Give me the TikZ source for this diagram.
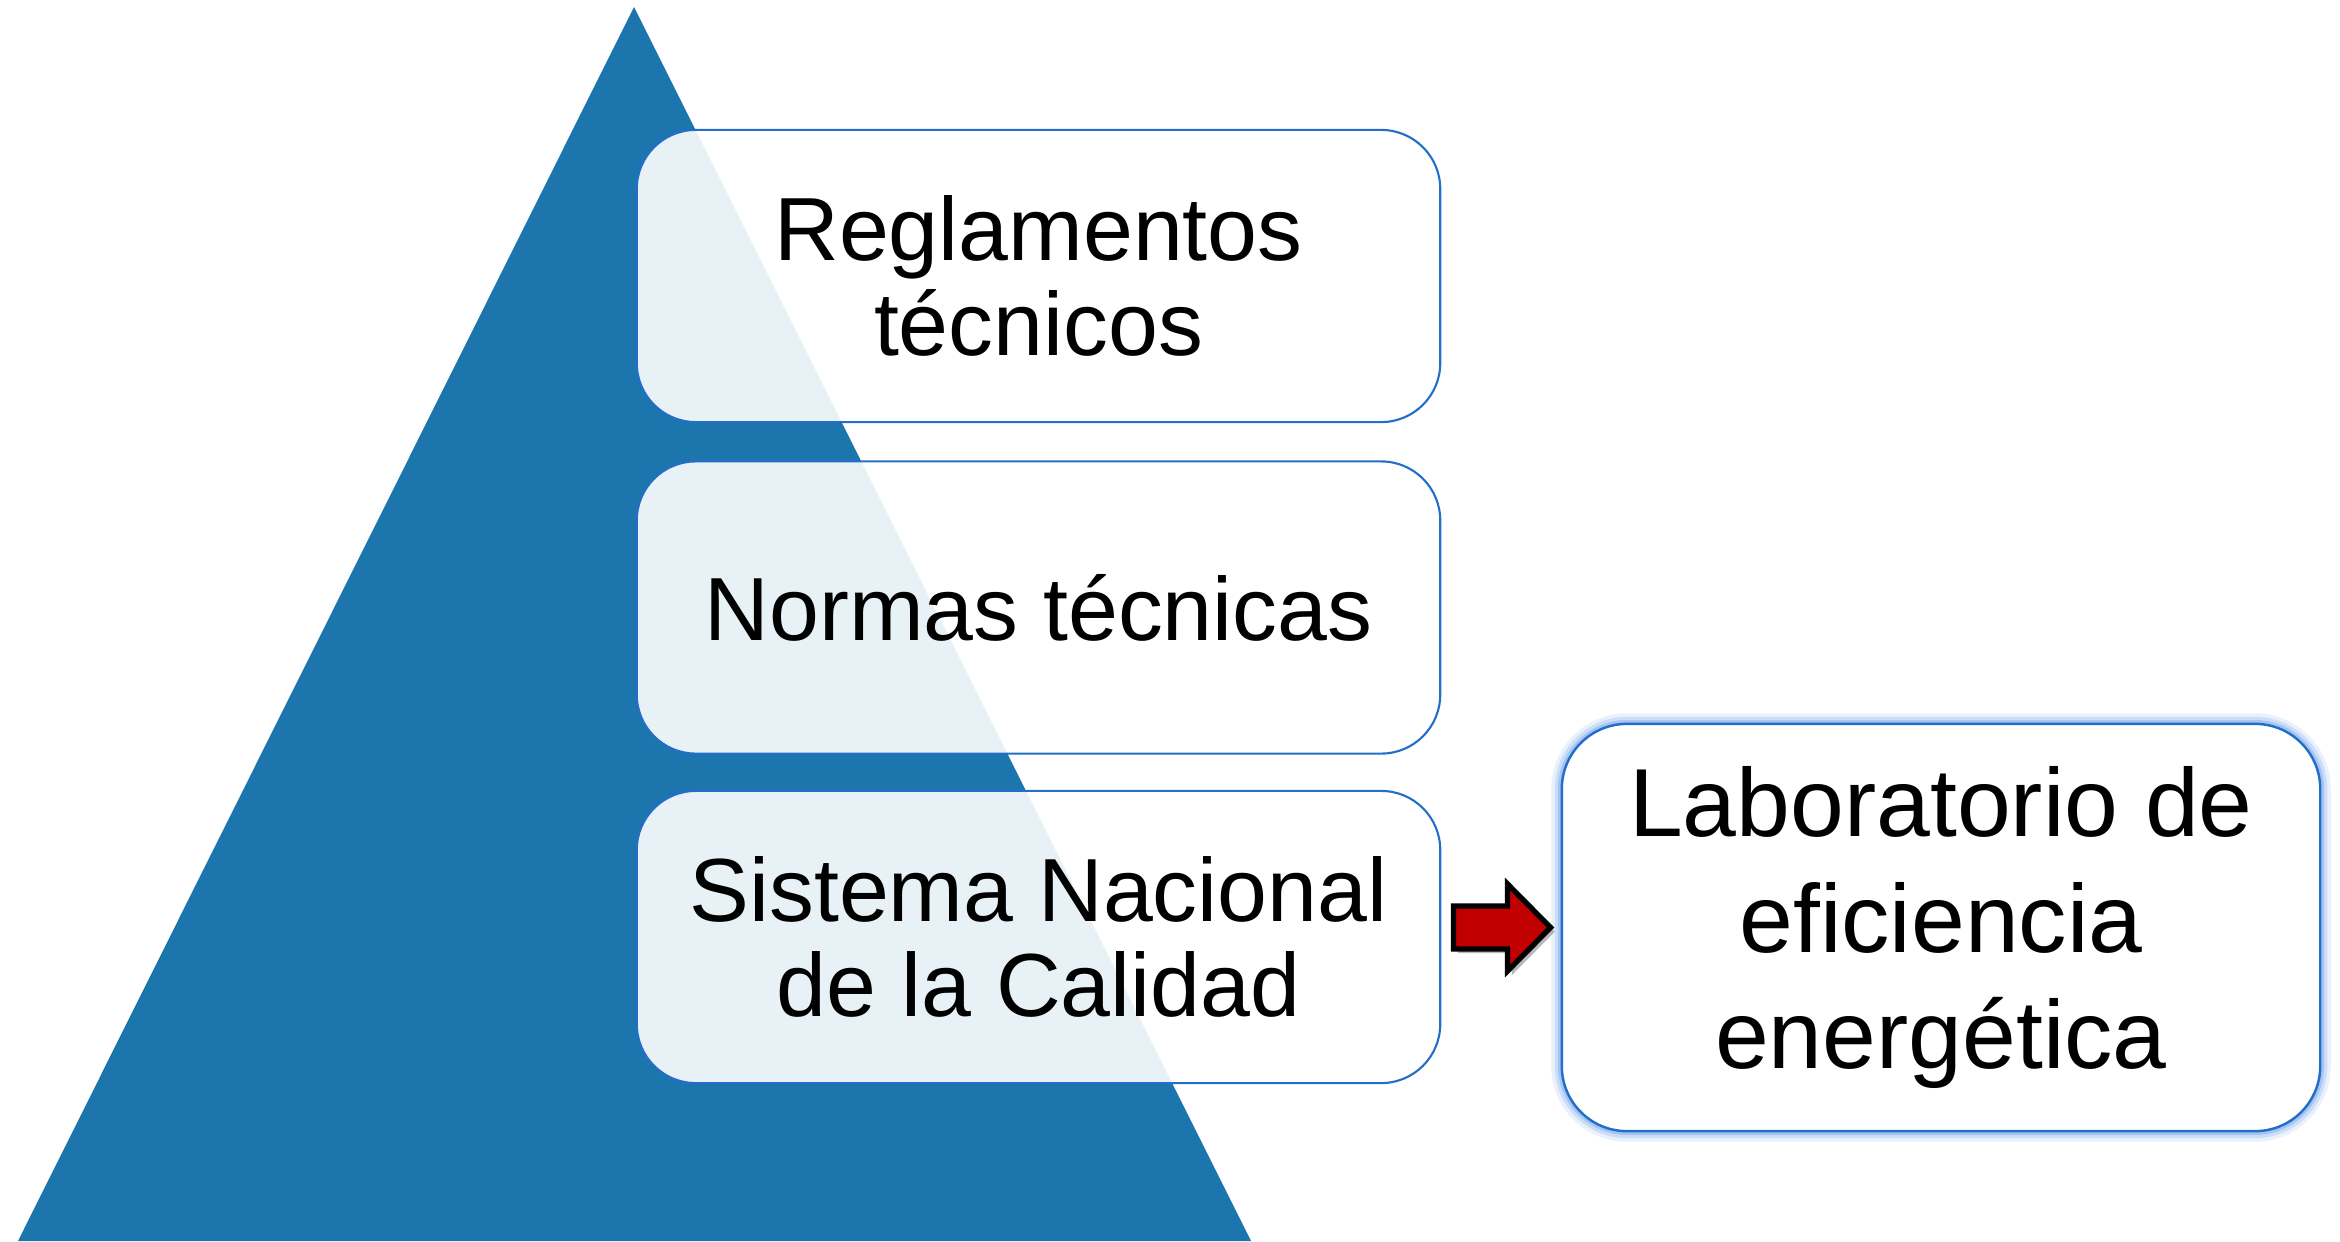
\documentclass[tikz,border=0pt]{standalone}
\usepackage{fontspec}
\setmainfont{Liberation Sans}
\usetikzlibrary{shadows}

\definecolor{pyramidblue}{RGB}{28,117,173}
\definecolor{boxline}{RGB}{35,110,200}
\definecolor{glowblue}{RGB}{110,160,235}
\definecolor{arrowred}{RGB}{192,0,0}

\tikzset{
    tierbox/.style={draw=boxline, line width=0.6pt, fill=white, fill opacity=0.9, text opacity=1,
        rounded corners=0.59cm, minimum width=8.03cm, minimum height=2.92cm, align=center,
        font=\fontsize{25.5}{27}\selectfont},
    labbox/.style={draw=boxline, line width=0.7pt, fill=white, rounded corners=0.65cm,
        minimum width=7.58cm, minimum height=4.07cm, align=center,
        font=\fontsize{27.5}{33}\selectfont,
        preaction={draw=glowblue, line width=6pt, draw opacity=0.15},
        preaction={draw=glowblue, line width=4pt, draw opacity=0.25},
        preaction={draw=glowblue, line width=2.2pt, draw opacity=0.4}},
    redarrow/.style={fill=arrowred, draw=black, line width=1.5pt, line join=miter,
        drop shadow={shadow xshift=1.2pt, shadow yshift=-1.2pt, opacity=0.55}}
}

\begin{document}
\begin{tikzpicture}[x=0.01cm, y=0.01cm]
    \useasboundingbox (0,0) rectangle (2340,1241);
    \fill[pyramidblue] (634,1234) -- (18,0) -- (1251,0) -- cycle;

    \node[tierbox] (regl) at (1038.5,965) {Reglamentos\\técnicos};
    \node[tierbox] (norm) at (1038.5,633.5) {Normas técnicas};
    \node[tierbox] (snc) at (1038.5,304) {Sistema Nacional\\de la Calidad};

    \node[labbox] (lab) at (1941,313.5) {Laboratorio de\\eficiencia\\energética};

    \draw[redarrow, shift={(lab.west)}] (-107,-21.5) -- (-53,-21.5) -- (-53,-43.5) -- (-10,0)
        -- (-53,43.5) -- (-53,21.5) -- (-107,21.5) -- cycle;
\end{tikzpicture}
\end{document}
